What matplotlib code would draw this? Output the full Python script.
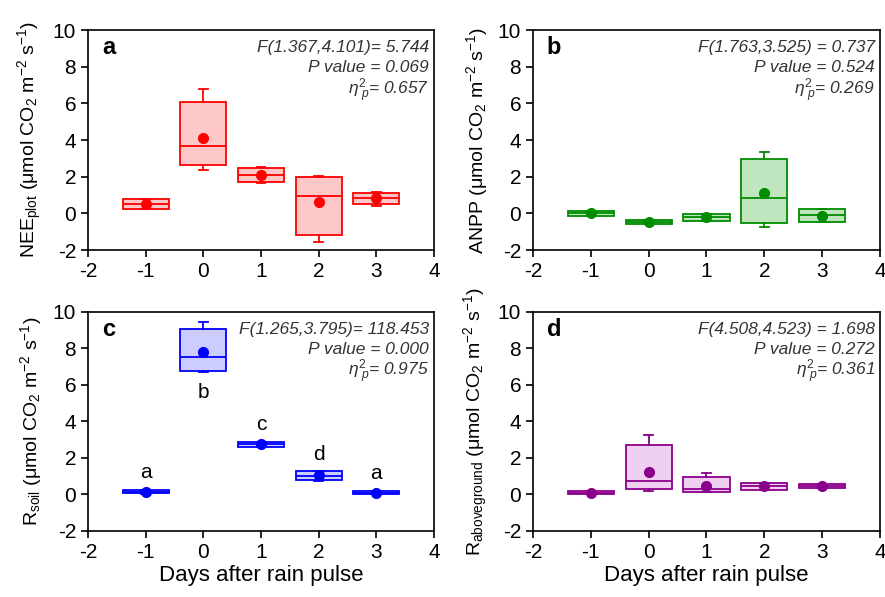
import matplotlib.pyplot as plt

plt.rcParams['font.family'] = ['Liberation Sans', 'DejaVu Sans']
plt.rcParams['mathtext.fontset'] = 'custom'
plt.rcParams['mathtext.rm'] = 'Liberation Sans'
plt.rcParams['mathtext.it'] = 'Liberation Sans:italic'
plt.rcParams['mathtext.bf'] = 'Liberation Sans:bold'

days = [-1, 0, 1, 2, 3]

# panel a: NEE plot
nee_q1 = [0.25, 2.62, 1.69, -1.17, 0.52]
nee_med = [0.52, 3.67, 2.07, 0.96, 0.85]
nee_q3 = [0.78, 6.05, 2.47, 2.00, 1.09]
nee_lo = [0.22, 2.36, 1.65, -1.57, 0.42]
nee_hi = [0.80, 6.76, 2.54, 2.03, 1.15]
nee_mean = [0.49, 4.11, 2.10, 0.60, 0.82]

# panel b: ANPP
anpp_q1 = [-0.13, -0.58, -0.40, -0.55, -0.46]
anpp_med = [0.00, -0.45, -0.18, 0.84, -0.09]
anpp_q3 = [0.14, -0.37, -0.05, 2.95, 0.23]
anpp_lo = [-0.13, -0.58, -0.43, -0.73, -0.46]
anpp_hi = [0.14, -0.37, -0.02, 3.33, 0.23]
anpp_mean = [0.02, -0.46, -0.22, 1.09, -0.12]

# panel c: R soil
rs_q1 = [0.06, 6.75, 2.60, 0.78, 0.01]
rs_med = [0.14, 7.52, 2.75, 1.03, 0.10]
rs_q3 = [0.22, 9.08, 2.88, 1.27, 0.19]
rs_lo = [0.04, 6.70, 2.58, 0.75, 0.01]
rs_hi = [0.23, 9.43, 2.90, 1.30, 0.19]
rs_mean = [0.14, 7.81, 2.75, 1.05, 0.08]
rs_letters = ['a', 'b', 'c', 'd', 'a']
rs_letter_y = [1.2, 5.6, 3.86, 2.2, 1.17]

# panel d: R aboveground
ra_q1 = [0.02, 0.28, 0.12, 0.26, 0.34]
ra_med = [0.10, 0.76, 0.28, 0.47, 0.45]
ra_q3 = [0.18, 2.70, 0.98, 0.63, 0.56]
ra_lo = [0.01, 0.21, 0.12, 0.26, 0.34]
ra_hi = [0.19, 3.26, 1.16, 0.63, 0.56]
ra_mean = [0.10, 1.25, 0.48, 0.45, 0.45]

unit = r' ($\mathrm{\mu}$mol CO$_\mathrm{2}$ m$^\mathrm{-2}$ s$^\mathrm{-1}$)'


def draw_panel(ax, q1, med, q3, lo, hi, mean, color, face, letter, stats, ylabel):
    bstats = []
    for i in range(len(days)):
        bstats.append({'q1': q1[i], 'med': med[i], 'q3': q3[i],
                       'whislo': lo[i], 'whishi': hi[i], 'mean': mean[i], 'fliers': []})
    ax.bxp(bstats, positions=days, widths=0.8, capwidths=0.15, patch_artist=True,
           showmeans=True, showfliers=False,
           boxprops=dict(facecolor=face, edgecolor=color, linewidth=1.3),
           medianprops=dict(color=color, linewidth=1.3),
           whiskerprops=dict(color=color, linewidth=1.3),
           capprops=dict(color=color, linewidth=1.3),
           meanprops=dict(marker='o', markerfacecolor=color, markeredgecolor=color, markersize=7))
    ax.set_xlim(-2, 4)
    ax.set_ylim(-2, 10)
    ax.set_xticks([-2, -1, 0, 1, 2, 3, 4])
    ax.set_xticklabels(['-2', '-1', '0', '1', '2', '3', '4'])
    ax.set_yticks([-2, 0, 2, 4, 6, 8, 10])
    ax.set_yticklabels(['-2', '0', '2', '4', '6', '8', '10'])
    ax.tick_params(labelsize=15, direction='out', length=5, width=1.2)
    for s in ax.spines.values():
        s.set_linewidth(1.2)
    ax.text(0.04, 0.92, letter, transform=ax.transAxes, fontsize=17, fontweight='bold',
            va='center', ha='left')
    ys = [0.92, 0.83, 0.725]
    for t, y in zip(stats, ys):
        ax.text(0.985, y, t, transform=ax.transAxes, fontsize=12.5, style='italic',
                ha='right', va='center', color='#333333')
    ax.set_ylabel(ylabel, fontsize=14, labelpad=6)


fig = plt.figure(figsize=(8.85, 5.97), dpi=100)
ax_a = fig.add_axes([0.0994, 0.5812, 0.391, 0.3685])
ax_b = fig.add_axes([0.6023, 0.5812, 0.392, 0.3685])
ax_c = fig.add_axes([0.0994, 0.1106, 0.391, 0.3668])
ax_d = fig.add_axes([0.6023, 0.1106, 0.392, 0.3668])

eta = r'$\mathit{\eta}^\mathrm{2}_{\ \mathit{p}}$'
draw_panel(ax_a, nee_q1, nee_med, nee_q3, nee_lo, nee_hi, nee_mean, '#ff0000', '#ffc8c8', 'a',
           ['F(1.367,4.101)= 5.744', 'P value = 0.069', eta + '= 0.657'],
           r'NEE$_\mathrm{plot}$' + unit)
draw_panel(ax_b, anpp_q1, anpp_med, anpp_q3, anpp_lo, anpp_hi, anpp_mean, '#008c00', '#c0e6c0', 'b',
           ['F(1.763,3.525) = 0.737', 'P value = 0.524', eta + '= 0.269'],
           'ANPP' + unit)
draw_panel(ax_c, rs_q1, rs_med, rs_q3, rs_lo, rs_hi, rs_mean, '#0000ff', '#ccccff', 'c',
           ['F(1.265,3.795)= 118.453', 'P value = 0.000', eta + '= 0.975'],
           r'R$_\mathrm{soil}$' + unit)
draw_panel(ax_d, ra_q1, ra_med, ra_q3, ra_lo, ra_hi, ra_mean, '#8b008b', '#f0d0f0', 'd',
           ['F(4.508,4.523) = 1.698', 'P value = 0.272', eta + '= 0.361'],
           r'R$_\mathrm{aboveground}$' + unit)

for x, lab, y in zip(days, rs_letters, rs_letter_y):
    ax_c.text(x, y, lab, fontsize=15, ha='center', va='center')

ax_c.set_xlabel('Days after rain pulse', fontsize=16, labelpad=2)
ax_d.set_xlabel('Days after rain pulse', fontsize=16, labelpad=2)

plt.savefig('out.png', dpi=100)
